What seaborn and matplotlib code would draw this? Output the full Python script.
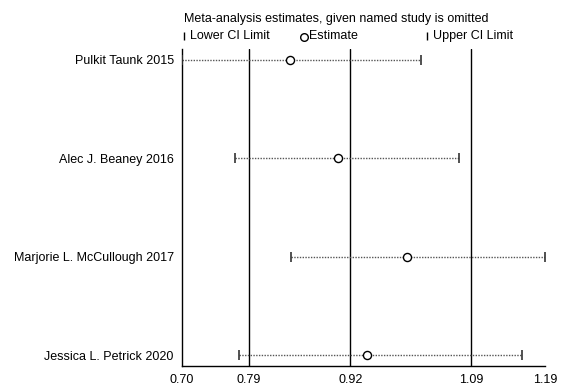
import numpy as np
import matplotlib
matplotlib.use("Agg")
import matplotlib.pyplot as plt
from matplotlib.lines import Line2D
import pandas as pd
import seaborn as sns

# data
studies = ["Pulkit Taunk 2015", "Alec J. Beaney 2016",
           "Marjorie L. McCullough 2017", "Jessica L. Petrick 2020"]
estimate = [0.846, 0.911, 1.004, 0.949]
lower_ci = [0.700, 0.772, 0.847, 0.777]
upper_ci = [1.023, 1.073, 1.190, 1.159]
ref_lines = [0.79, 0.927, 1.09]
tick_vals = [0.70, 0.79, 0.927, 1.09, 1.19]
tick_labels = ["0.70", "0.79", "0.92", "1.09", "1.19"]

df = pd.DataFrame({"study": studies, "est": estimate, "lo": lower_ci, "hi": upper_ci})
df["pos"] = np.arange(len(df))

sns.set_style("white")
plt.rcParams["font.family"] = ["Liberation Sans", "DejaVu Sans"]
plt.rcParams["text.color"] = "black"
plt.rcParams["xtick.color"] = "black"
plt.rcParams["ytick.color"] = "black"

fig = plt.figure(figsize=(5.65, 3.88), dpi=100)
ax = fig.add_axes([0.3221, 0.0567, 0.6430, 0.8170])

# reference lines
for v in ref_lines:
    ax.axvline(v, color="black", lw=1.0, zorder=1)

# CI lines (dotted) and caps
ax.hlines(df["pos"], df["lo"], df["hi"], colors="#555555", linestyles=(0, (1, 1)), lw=1.0, zorder=2)
ax.plot(df["lo"], df["pos"], ls="none", marker="|", ms=7, mew=1.2, color="#333333", zorder=3)
ax.plot(df["hi"], df["pos"], ls="none", marker="|", ms=7, mew=1.2, color="#333333", zorder=3)

# estimates
sns.scatterplot(data=df, x="est", y="pos", ax=ax, marker="o", s=34,
                facecolor="white", edgecolor="black", linewidth=1.0, zorder=4)

ax.set_xlim(0.70, 1.19)
ax.set_ylim(3.11, -0.11)
ax.set_xticks(tick_vals)
ax.set_xticklabels(tick_labels, fontsize=9)
ax.set_yticks(df["pos"])
ax.set_yticklabels(df["study"], fontsize=9)
ax.tick_params(axis="y", length=0, pad=6)
ax.tick_params(axis="x", length=3, width=1, direction="out", pad=3)
ax.set_xlabel("")
ax.set_ylabel("")
for s in ["top", "right"]:
    ax.spines[s].set_visible(False)
for s in ["left", "bottom"]:
    ax.spines[s].set_color("black")
    ax.spines[s].set_linewidth(1.0)

# header
W, H = 565.0, 388.0
fig.text(184 / W, 1 - 19 / H, "Meta-analysis estimates, given named study is omitted",
         fontsize=9, va="center", ha="left")
fig.add_artist(Line2D([184 / W], [1 - 36 / H], marker="|", ms=6, mew=1, color="black"))
fig.text(190 / W, 1 - 36 / H, "Lower CI Limit", fontsize=9, va="center", ha="left")
fig.add_artist(Line2D([304 / W], [1 - 36.5 / H], marker="o", ms=5.5, mfc="white", mec="black", mew=1))
fig.text(309 / W, 1 - 36 / H, "Estimate", fontsize=9, va="center", ha="left")
fig.add_artist(Line2D([427 / W], [1 - 36 / H], marker="|", ms=6, mew=1, color="black"))
fig.text(433 / W, 1 - 36 / H, "Upper CI Limit", fontsize=9, va="center", ha="left")

fig.savefig("out.png", dpi=100)
